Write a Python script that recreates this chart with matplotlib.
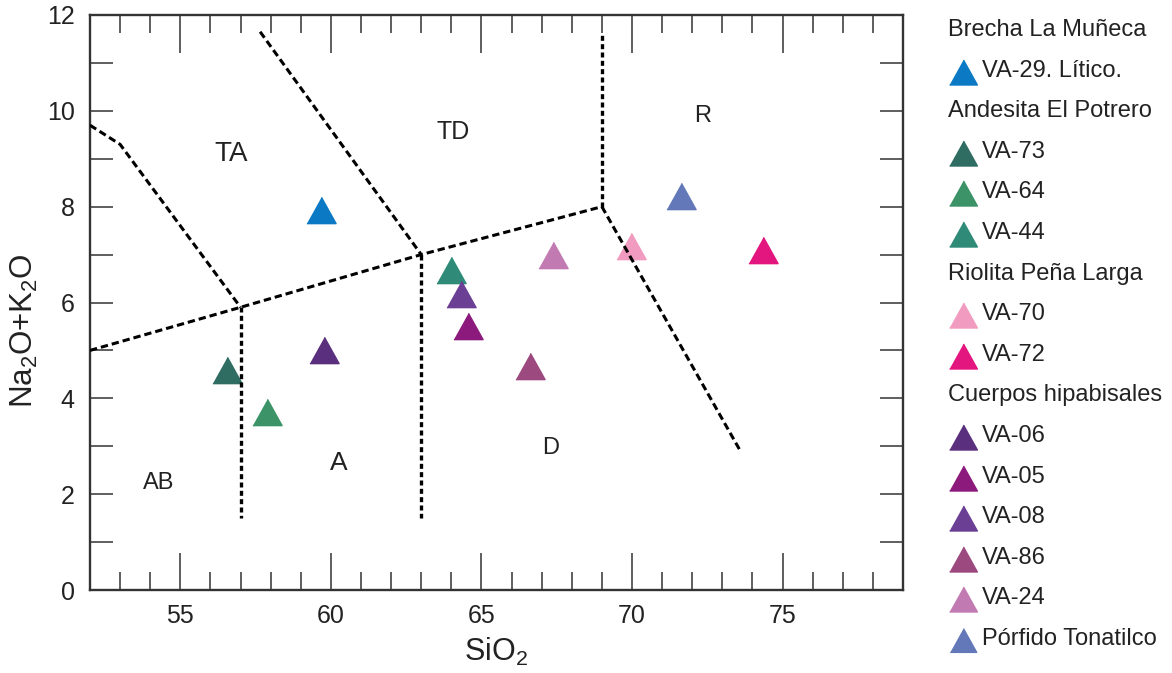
import matplotlib
matplotlib.use("Agg")
import matplotlib.pyplot as plt
from matplotlib.ticker import MultipleLocator

plt.rcParams['font.family'] = ['Liberation Sans', 'DejaVu Sans']
plt.rcParams['mathtext.fontset'] = 'custom'
plt.rcParams['mathtext.rm'] = 'Liberation Sans'
plt.rcParams['mathtext.it'] = 'Liberation Sans'
plt.rcParams['mathtext.default'] = 'regular'

# datos
grupos = ["Brecha La Muñeca", "Andesita El Potrero", "Riolita Peña Larga", "Cuerpos hipabisales"]
muestras = ["VA-29. Lítico.", "VA-73", "VA-64", "VA-44", "VA-70", "VA-72",
            "VA-06", "VA-05", "VA-08", "VA-86", "VA-24", "Pórfido Tonatilco"]
grupo_de_muestra = [0, 1, 1, 1, 2, 2, 3, 3, 3, 3, 3, 3]
sio2 = [59.67, 56.55, 57.88, 64.0, 69.97, 74.36, 59.77, 64.56, 64.33, 66.62, 67.38, 71.63]
alcalis = [7.93, 4.60, 3.71, 6.68, 7.18, 7.10, 5.01, 5.52, 6.18, 4.68, 6.99, 8.23]
colores = ["#0B79C3", "#2F6C61", "#3B9367", "#2F8B78", "#F09BBF", "#E3157F",
           "#5A2F7D", "#8B1A7C", "#6B3F94", "#9C4980", "#C27AB2", "#6378B8"]

# limites de campos (TAS)
limites = [
    ([52, 53, 57], [9.7, 9.3, 5.9]),
    ([52, 57, 63, 69], [5.0, 5.9, 7.0, 8.0]),
    ([57.65, 63], [11.65, 7.0]),
    ([69, 73.6], [8.0, 2.9]),
]
limites_vert = [
    ([57, 57], [5.9, 1.5]),
    ([63, 63], [7.0, 1.5]),
    ([69, 69], [8.0, 11.6]),
]
campos = ["TA", "TD", "R", "AB", "A", "D"]
campos_x = [56.68, 64.06, 72.33, 54.27, 60.25, 67.3]
campos_y = [9.1, 9.56, 9.9, 2.23, 2.65, 2.96]
campos_tam = [20, 18, 17, 17, 19, 17]

W, H = 1172, 673
fig = plt.figure(figsize=(W / 100, H / 100), dpi=100)
ax = fig.add_axes([90 / W, 1 - 590 / H, 813 / W, 575 / H])

tri = [(-1, -0.9), (1, -0.9), (0, 0.9)]
for i in range(len(muestras)):
    ax.plot(sio2[i], alcalis[i], marker=tri, ms=21, color=colores[i],
            linestyle='none', zorder=3)

for xs, ys in limites:
    ax.plot(xs, ys, color='black', lw=2.2, dashes=(2.4, 1.3), zorder=4)
for xs, ys in limites_vert:
    ax.plot(xs, ys, color='black', lw=2.4, dashes=(1.5, 1.0), zorder=4)

for t, x, y, s in zip(campos, campos_x, campos_y, campos_tam):
    ax.text(x, y, t, fontsize=s, ha='center', va='center', color='#222222')

ax.set_xlim(52, 79)
ax.set_ylim(0, 12)
ax.xaxis.set_major_locator(MultipleLocator(5))
ax.xaxis.set_minor_locator(MultipleLocator(1))
ax.yaxis.set_major_locator(MultipleLocator(2))
ax.yaxis.set_minor_locator(MultipleLocator(1))
ax.tick_params(axis='x', which='major', direction='in', top=True, length=27,
               width=1.1, labelsize=18, pad=10, color='#333333', labelcolor='#222222')
ax.tick_params(axis='x', which='minor', direction='in', top=True, length=13,
               width=1.1, color='#333333')
ax.tick_params(axis='y', which='both', direction='in', right=True, length=16.5,
               width=1.1, labelsize=18, pad=11, color='#333333', labelcolor='#222222')
for sp in ax.spines.values():
    sp.set_linewidth(1.7)
    sp.set_color('#333333')

ax.set_xlabel('SiO$_2$', fontsize=22, labelpad=6, color='#222222')
ax.set_ylabel('Na$_2$O+K$_2$O', fontsize=22.5, color='#222222')
ax.yaxis.set_label_coords(-0.062, 0.452)

# leyenda
ax_ley = fig.add_axes([0, 0, 1, 1], zorder=-1)
ax_ley.set_xlim(0, W)
ax_ley.set_ylim(H, 0)
ax_ley.axis('off')
filas = []
g_ant = -1
for i, g in enumerate(grupo_de_muestra):
    if g != g_ant:
        filas.append(('g', g))
        g_ant = g
    filas.append(('m', i))
for k, (tipo, j) in enumerate(filas):
    y = 30 + k * 40.6
    if tipo == 'g':
        ax_ley.text(948, y, grupos[j], fontsize=17, ha='left', va='center', color='#222222')
    else:
        ms = 19 if j == len(muestras) - 1 else 20
        ax_ley.plot(963, y + 1, marker=tri, ms=ms, color=colores[j], linestyle='none')
        ax_ley.text(982, y, muestras[j], fontsize=17, ha='left', va='center', color='#222222')

fig.savefig('out.png', dpi=100)
